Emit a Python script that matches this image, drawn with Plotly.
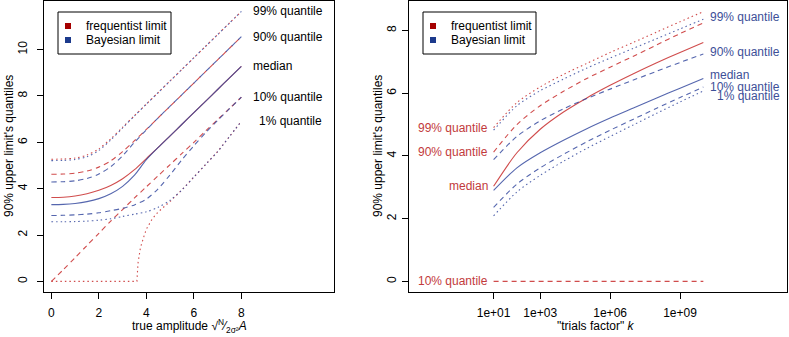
import plotly.graph_objects as go

# ---------------- data ----------------
# left panel: true amplitude grid
amp = [0, 0.5, 1, 1.5, 2, 2.5, 3, 3.5, 4, 4.5, 5, 5.5, 6, 6.5, 7, 7.5, 8]

freq_q99 = [5.27, 5.28, 5.32, 5.45, 5.72, 6.15, 6.65, 7.15, 7.65, 8.15, 8.65, 9.15, 9.65, 10.15, 10.65, 11.15, 11.65]
bayes_q99 = [5.21, 5.22, 5.26, 5.38, 5.65, 6.1, 6.62, 7.14, 7.65, 8.15, 8.65, 9.15, 9.65, 10.15, 10.65, 11.15, 11.65]
freq_q90 = [4.62, 4.63, 4.67, 4.76, 4.93, 5.2, 5.6, 6.07, 6.56, 7.06, 7.56, 8.06, 8.56, 9.06, 9.56, 10.06, 10.56]
bayes_q90 = [4.29, 4.3, 4.34, 4.44, 4.63, 4.95, 5.42, 6.0, 6.54, 7.06, 7.56, 8.06, 8.56, 9.06, 9.56, 10.06, 10.56]
freq_med = [3.62, 3.63, 3.68, 3.78, 3.93, 4.14, 4.43, 4.82, 5.3, 5.78, 6.28, 6.78, 7.28, 7.78, 8.28, 8.78, 9.28]
bayes_med = [3.31, 3.32, 3.36, 3.44, 3.57, 3.78, 4.1, 4.58, 5.25, 5.78, 6.28, 6.78, 7.28, 7.78, 8.28, 8.78, 9.28]
freq_q10 = [0.0, 0.5, 1.02, 1.55, 2.07, 2.6, 3.1, 3.6, 4.08, 4.56, 5.04, 5.52, 6.0, 6.5, 6.98, 7.46, 7.95]
bayes_q10 = [2.84, 2.85, 2.87, 2.9, 2.96, 3.05, 3.15, 3.3, 3.55, 4.0, 4.6, 5.25, 5.85, 6.42, 6.95, 7.45, 7.95]
bayes_q01 = [2.57, 2.57, 2.58, 2.6, 2.64, 2.7, 2.8, 2.9, 3.0, 3.2, 3.5, 3.95, 4.5, 5.05, 5.6, 6.25, 6.91]
amp_freq_q01 = [0, 3.6, 3.65, 3.75, 3.9, 4.0, 4.25, 4.5, 5.0, 5.5, 6.0, 6.5, 7.0, 7.5, 8.0]
freq_q01 = [0, 0, 0.8, 1.45, 1.95, 2.25, 2.7, 3.0, 3.45, 3.95, 4.5, 5.05, 5.6, 6.25, 6.91]

# right panel: trials factor
trials = [1e1, 1e2, 1e3, 1e4, 1e5, 1e6, 1e7, 1e8, 1e9, 1e10]
k_freq_q99 = [4.9, 5.7, 6.2, 6.6, 6.95, 7.3, 7.62, 7.95, 8.28, 8.6]
k_bayes_q99 = [4.82, 5.6, 6.08, 6.45, 6.8, 7.12, 7.43, 7.74, 8.05, 8.36]
k_freq_q90 = [4.12, 5.0, 5.6, 6.06, 6.47, 6.83, 7.18, 7.54, 7.9, 8.24]
k_bayes_q90 = [3.88, 4.62, 5.12, 5.5, 5.83, 6.13, 6.42, 6.7, 6.98, 7.25]
k_freq_med = [3.03, 4.1, 4.85, 5.4, 5.85, 6.25, 6.62, 6.97, 7.3, 7.62]
k_bayes_med = [2.9, 3.62, 4.1, 4.5, 4.87, 5.21, 5.53, 5.85, 6.16, 6.47]
k_freq_q10 = [0, 0, 0, 0, 0, 0, 0, 0, 0, 0]
k_bayes_q10 = [2.36, 3.1, 3.62, 4.05, 4.45, 4.82, 5.17, 5.52, 5.86, 6.2]
k_bayes_q01 = [2.09, 2.85, 3.38, 3.83, 4.24, 4.62, 4.99, 5.36, 5.72, 6.07]

quantile_labels = ["99% quantile", "90% quantile", "median", "10% quantile", "1% quantile"]

# ---------------- styling ----------------
RED = "rgba(200,45,45,0.85)"
BLUE = "rgba(55,75,160,0.85)"
RED_TXT = "#c23a3c"
BLUE_TXT = "#3d4f98"
DASH = "5px,4px"
DOT = "1.5px,3px"
FONT = "Liberation Sans, Arial, sans-serif"

W, H = 789, 337
ML, MR, MT, MB = 44, 2, 1, 45
PW = W - ML - MR
PH = H - MT - MB


def px(x):
    return (x - ML) / PW


def py(y):
    return (H - MB - y) / PH


fig = go.Figure()


def add_line(x, y, color, dash, xa="x", ya="y", shape="spline"):
    fig.add_trace(go.Scatter(x=x, y=y, mode="lines", xaxis=xa, yaxis=ya,
                             line=dict(color=color, width=1.1, dash=dash, shape=shape, smoothing=0.8),
                             showlegend=False, hoverinfo="skip"))


# left panel
add_line(amp, freq_q99, RED, DOT)
add_line(amp, freq_q90, RED, DASH)
add_line(amp, freq_med, RED, "solid")
add_line(amp, freq_q10, RED, DASH)
add_line(amp_freq_q01, freq_q01, RED, DOT, shape="linear")
add_line(amp, bayes_q99, BLUE, DOT)
add_line(amp, bayes_q90, BLUE, DASH)
add_line(amp, bayes_med, BLUE, "solid")
add_line(amp, bayes_q10, BLUE, DASH)
add_line(amp, bayes_q01, BLUE, DOT)

# right panel
add_line(trials, k_freq_q99, RED, DOT, "x2", "y2")
add_line(trials, k_freq_q90, RED, DASH, "x2", "y2")
add_line(trials, k_freq_med, RED, "solid", "x2", "y2")
add_line(trials, k_freq_q10, RED, DASH, "x2", "y2", shape="linear")
add_line(trials, k_bayes_q99, BLUE, DOT, "x2", "y2")
add_line(trials, k_bayes_q90, BLUE, DASH, "x2", "y2")
add_line(trials, k_bayes_med, BLUE, "solid", "x2", "y2")
add_line(trials, k_bayes_q10, BLUE, DASH, "x2", "y2")
add_line(trials, k_bayes_q01, BLUE, DOT, "x2", "y2")

ann = []
# left labels at curve ends
left_ends = [freq_q99[-1], freq_q90[-1], freq_med[-1], freq_q10[-1], freq_q01[-1]]
left_xshift = [10, 10, 10, 10, 16]
for lab, yv, xs in zip(quantile_labels, left_ends, left_xshift):
    ann.append(dict(x=amp[-1], y=yv, xref="x", yref="y", text=lab, showarrow=False,
                    xanchor="left", yanchor="middle", xshift=xs,
                    font=dict(size=12, color="black", family=FONT)))

# right panel: red labels at the left end
red_starts = [k_freq_q99[0], k_freq_q90[0], k_freq_med[0], k_freq_q10[0]]
for lab, yv in zip(["99% quantile", "90% quantile", "median", "10% quantile"], red_starts):
    ann.append(dict(x=1, y=yv, xref="x2", yref="y2", text=lab, showarrow=False,
                    xanchor="right", yanchor="middle", xshift=-4,
                    font=dict(size=12, color=RED_TXT, family=FONT)))
# right panel: blue labels at the right end
blue_ends = [k_bayes_q99[-1], k_bayes_q90[-1], k_bayes_med[-1], k_bayes_q10[-1], k_bayes_q01[-1]]
blue_yshift = [2, 2, 3, 0, -5]
blue_xshift = [5, 5, 5, 5, 12]
for lab, yv, ys, xs in zip(quantile_labels, blue_ends, blue_yshift, blue_xshift):
    ann.append(dict(x=10, y=yv, xref="x2", yref="y2", text=lab, showarrow=False,
                    xanchor="left", yanchor="middle", xshift=xs, yshift=ys,
                    font=dict(size=12, color=BLUE_TXT, family=FONT)))

# axis titles
tfont = dict(size=12, color="black", family=FONT)
ann.append(dict(x=px(189), y=py(326), xref="paper", yref="paper", showarrow=False, font=tfont,
                xanchor="center", yanchor="middle",
                text="true amplitude √<sup>N</sup>⁄<sub>2σ²</sub><i>A</i>"))
ann.append(dict(x=px(596), y=py(326), xref="paper", yref="paper", showarrow=False, font=tfont,
                xanchor="center", yanchor="middle", text="\"trials factor\" <i>k</i>"))
ann.append(dict(x=px(9), y=py(146), xref="paper", yref="paper", showarrow=False, font=tfont,
                xanchor="center", yanchor="middle", textangle=-90, text="90% upper limit's quantiles"))
ann.append(dict(x=px(378), y=py(146), xref="paper", yref="paper", showarrow=False, font=tfont,
                xanchor="center", yanchor="middle", textangle=-90, text="90% upper limit's quantiles"))

# legends (drawn by hand, R style)
shapes = []
for x0 in (58, 423):
    shapes.append(dict(type="rect", xref="paper", yref="paper", x0=px(x0), x1=px(x0 + 113),
                       y0=py(54), y1=py(12), line=dict(color="black", width=1), fillcolor="white"))
    for yy, col, name in ((26, "#a50000", "frequentist limit"), (40, "#1c3a8c", "Bayesian limit")):
        shapes.append(dict(type="rect", xref="paper", yref="paper", x0=px(x0 + 7), x1=px(x0 + 13),
                           y0=py(yy + 3), y1=py(yy - 3), line=dict(width=0), fillcolor=col))
        ann.append(dict(x=px(x0 + 26), y=py(yy), xref="paper", yref="paper", text=name, showarrow=False,
                        xanchor="left", yanchor="middle", font=tfont))

axis_common = dict(showline=True, linecolor="black", linewidth=1, mirror=True, ticks="outside",
                   ticklen=6, tickcolor="black", showgrid=False, zeroline=False,
                   tickfont=dict(size=12, color="black", family=FONT))

fig.update_layout(
    width=W, height=H, margin=dict(l=ML, r=MR, t=MT, b=MB),
    paper_bgcolor="white", plot_bgcolor="white", showlegend=False,
    xaxis=dict(domain=[0, px(334)], range=[-0.31, 11.9], tickvals=[0, 2, 4, 6, 8],
               ticklabelstandoff=4, **axis_common),
    yaxis=dict(domain=[0, 1], range=[-0.46, 12.1], tickvals=[0, 2, 4, 6, 8, 10], tickangle=-90,
               ticklabelstandoff=5, **axis_common),
    xaxis2=dict(domain=[px(409), 1], type="log", range=[-2.63, 13.59], anchor="y2",
                tickvals=[1e1, 1e3, 1e6, 1e9], ticktext=["1e+01", "1e+03", "1e+06", "1e+09"],
                ticklabelstandoff=4, **axis_common),
    yaxis2=dict(domain=[0, 1], range=[-0.34, 8.94], anchor="x2", tickvals=[0, 2, 4, 6, 8], tickangle=-90,
                ticklabelstandoff=1, **axis_common),
    annotations=ann, shapes=shapes,
)

# page body has an 8px default margin; drop it so the figure sits at the window corner
fig.write_html("out.html", config={"displayModeBar": False},
               post_script="document.body.style.margin='0';document.body.style.overflow='hidden';")
